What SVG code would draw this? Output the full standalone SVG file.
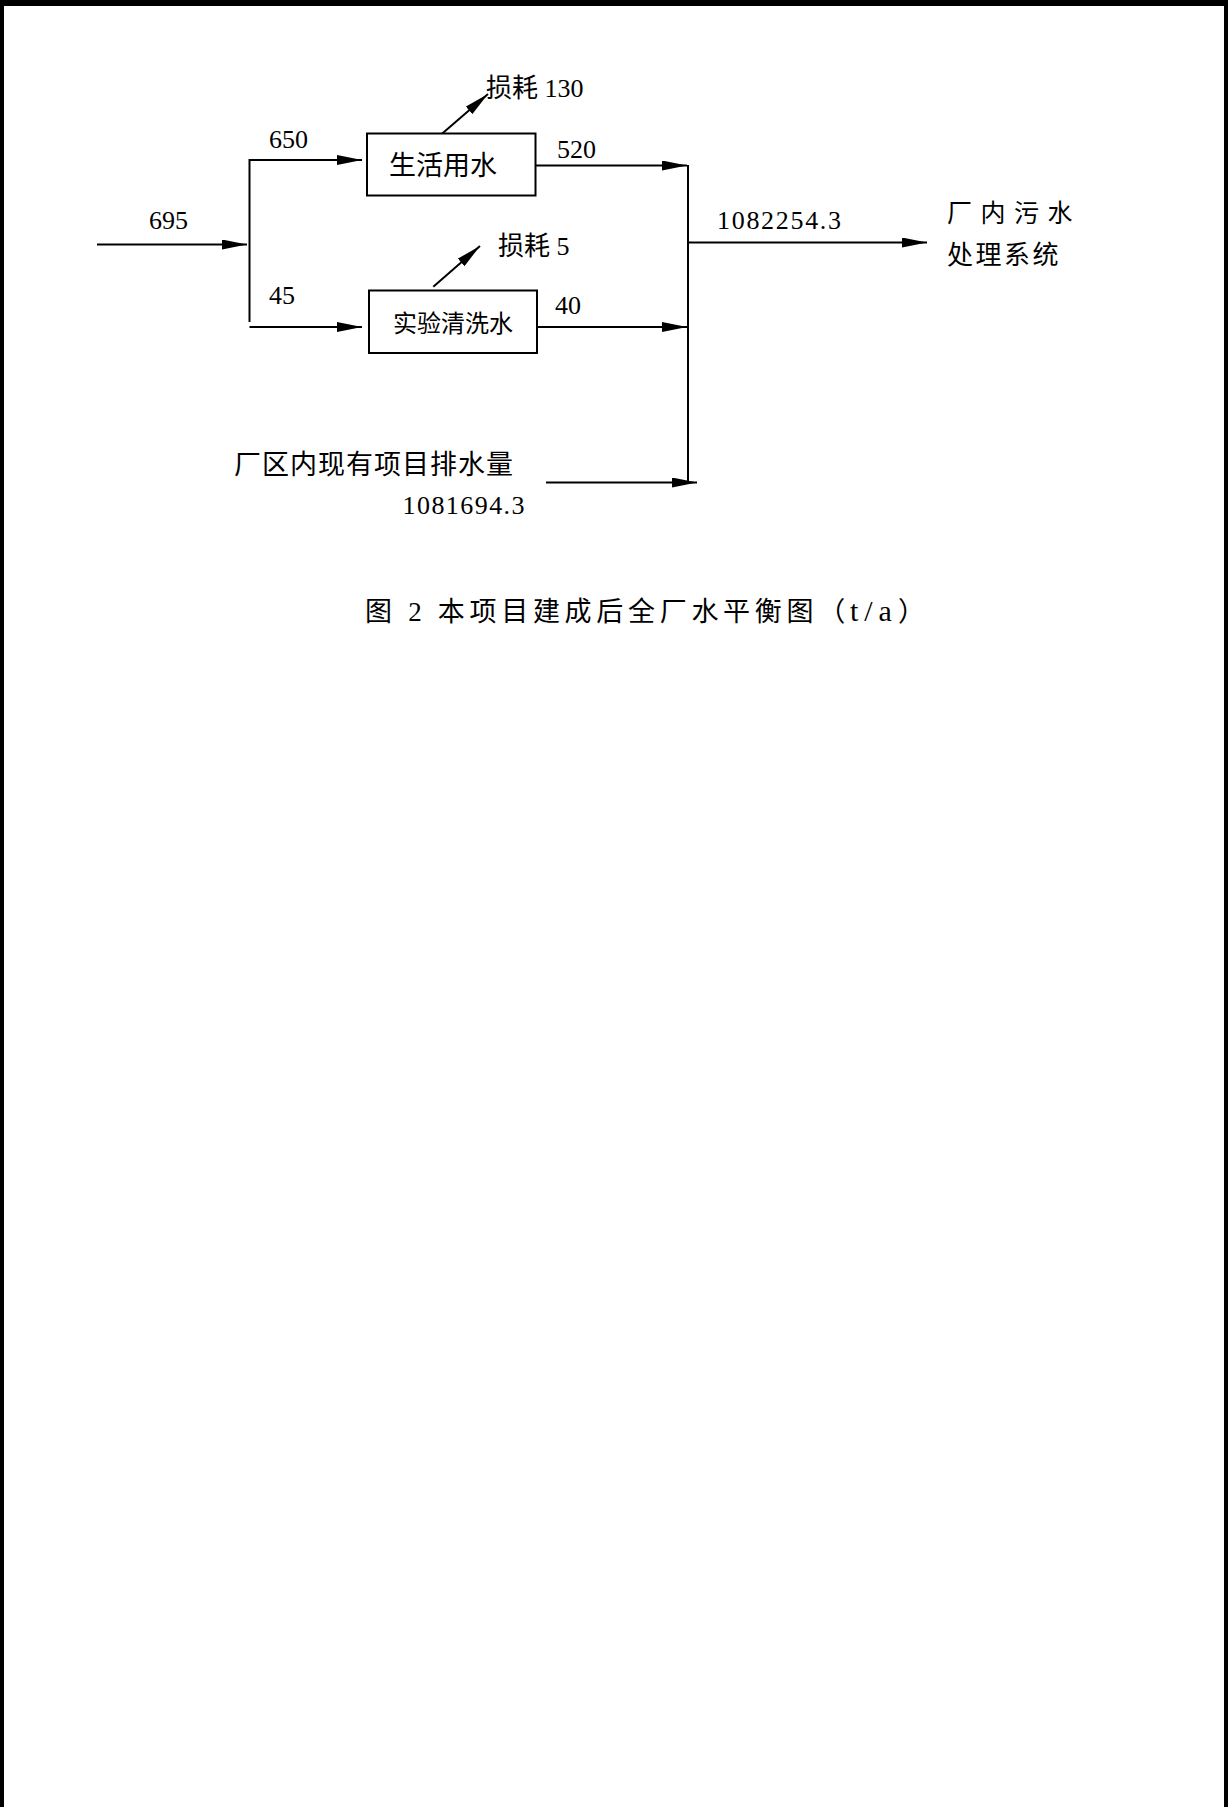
<svg xmlns="http://www.w3.org/2000/svg" width="1228" height="1807" viewBox="0 0 1228 1807">
<style>
.ln{stroke:#000;stroke-width:2;fill:none}
.bx{stroke:#000;stroke-width:2;fill:#fff}
.cj{font-family:"Noto Sans CJK SC","Liberation Serif",sans-serif;fill:#000}
.nm{font-family:"Liberation Serif","Noto Sans CJK SC",serif;font-size:26px;fill:#000}
.cap{font-family:"Liberation Serif","Noto Sans CJK SC",serif;font-size:27px;letter-spacing:4.7px;fill:#000}
</style>
<defs>
<marker id="ah" markerUnits="userSpaceOnUse" viewBox="0 0 25 10" refX="25" refY="5" markerWidth="25" markerHeight="10" orient="auto">
<path d="M0,0 L25,5 L0,10 z" fill="#000"/>
</marker>
</defs>
<rect width="1228" height="1807" fill="#fff"/>
<g id="border" fill="#000">
<rect x="0" y="0" width="1228" height="6"/>
<rect x="0" y="0" width="4" height="1807"/>
<rect x="1224" y="0" width="4" height="1807"/>
</g>
<g id="connectors">
<line class="ln" x1="97" y1="244.5" x2="247" y2="244.5" marker-end="url(#ah)"/>
<line class="ln" x1="249.5" y1="159" x2="249.5" y2="322"/>
<line class="ln" x1="249.5" y1="160" x2="362" y2="160" marker-end="url(#ah)"/>
<line class="ln" x1="249.5" y1="327" x2="362" y2="327" marker-end="url(#ah)"/>
<line class="ln" x1="535.5" y1="165.5" x2="687" y2="165.5" marker-end="url(#ah)"/>
<line class="ln" x1="537.5" y1="327" x2="687" y2="327" marker-end="url(#ah)"/>
<line class="ln" x1="688" y1="165" x2="688" y2="482.5"/>
<line class="ln" x1="546" y1="482.5" x2="697" y2="482.5" marker-end="url(#ah)"/>
<line class="ln" x1="688" y1="242.5" x2="927" y2="242.5" marker-end="url(#ah)"/>
<line class="ln" x1="441.7" y1="134" x2="488" y2="94" marker-end="url(#ah)"/>
<line class="ln" x1="433.3" y1="286.7" x2="480" y2="246" marker-end="url(#ah)"/>
</g>
<g id="node-shenghuo">
<rect class="bx" x="367" y="133.5" width="168.5" height="62"/>
<text class="cj" x="443" y="175" font-size="27" text-anchor="middle">生活用水</text>
</g>
<g id="node-shiyan">
<rect class="bx" x="369" y="290.5" width="168" height="62.5"/>
<text class="cj" x="453" y="331.5" font-size="24" text-anchor="middle">实验清洗水</text>
</g>
<g id="node-sunhao1">
<text class="cj" x="486" y="96.5" font-size="26">损耗<tspan class="nm"> 130</tspan></text>
</g>
<g id="node-sunhao2">
<text class="cj" x="498" y="255" font-size="26">损耗<tspan class="nm"> 5</tspan></text>
</g>
<g id="node-wushui">
<text class="cj" x="947" y="222" font-size="25" letter-spacing="8.5">厂内污水</text>
<text class="cj" x="947" y="264" font-size="26" letter-spacing="2.5">处理系统</text>
</g>
<g id="node-xianyou">
<text class="cj" x="234" y="473.5" font-size="27" textLength="279" lengthAdjust="spacing">厂区内现有项目排水量</text>
<text class="nm" x="402.5" y="514" textLength="122" lengthAdjust="spacing">1081694.3</text>
</g>
<g id="labels">
<text class="nm" x="149" y="229">695</text>
<text class="nm" x="269" y="147.5">650</text>
<text class="nm" x="269" y="303.5">45</text>
<text class="nm" x="557" y="157.8">520</text>
<text class="nm" x="555" y="313.5">40</text>
<text class="nm" x="717" y="229" textLength="124" lengthAdjust="spacing">1082254.3</text>
</g>
<g id="caption">
<text class="cap" x="365" y="621">图 2 本项目建成后全厂水平衡图（<tspan font-size="30" letter-spacing="6">t/a</tspan>）</text>
</g>
</svg>
